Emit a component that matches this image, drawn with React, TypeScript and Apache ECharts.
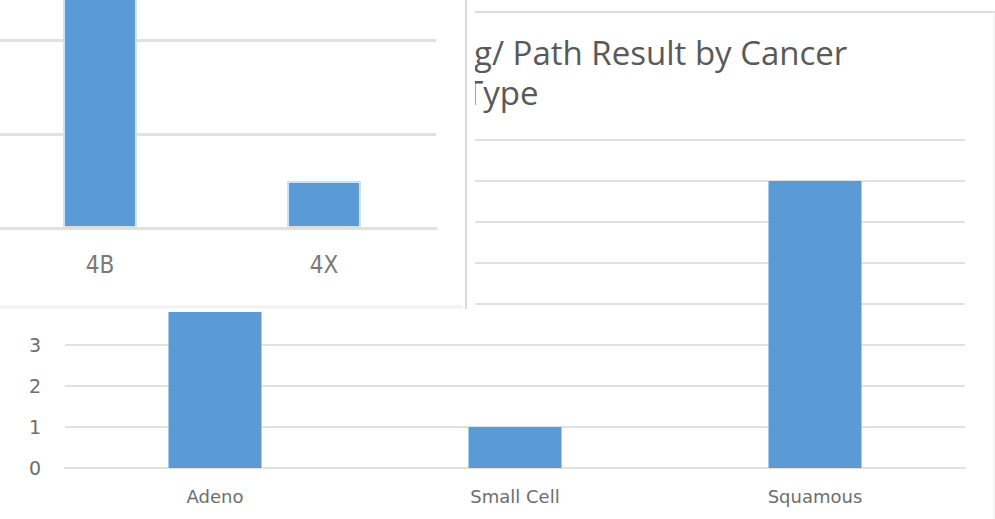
import React, { useEffect, useRef } from "react";
import * as echarts from "echarts";

// Counts by cancer type (main chart)
const cancerTypes = ["Adeno", "Small Cell", "Squamous"];
const cancerCounts = [6, 1, 7];
const countAxisMax = 8;
const countAxisStep = 1;

// Counts by stage (inset panel)
const stageLabels = ["4B", "4X"];
const stageCounts = [5, 1];
const stageAxisMax = 6;
const stageAxisStep = 2;

// Title lines as shown
const titleLine1 = "g/ Path Result by Cancer";
const titleLine2 = "Type";

const BAR_BLUE = "#5b9bd5";
const GRID_GRAY = "#e1e1e1";
const LABEL_GRAY = "#6e6e6e";

// The inset panel's div is shifted up/left so its plot runs past the visible edge
const PANEL_SHIFT_X = 12;
const PANEL_SHIFT_Y = 54;
const PANEL_W = 475;
const PANEL_H = 312;

function MainChart() {
  const ref = useRef<HTMLDivElement>(null);
  useEffect(() => {
    if (!ref.current) return;
    const chart = echarts.init(ref.current, undefined, { renderer: "svg" });
    const titleStyle = {
      fontFamily: "'Open Sans', sans-serif",
      fontSize: 33,
      fontWeight: "normal",
      color: "#595959",
    };
    chart.setOption({
      animation: false,
      backgroundColor: "#ffffff",
      title: [
        { text: titleLine1, left: 474, top: 36, padding: 0, textStyle: titleStyle },
        { text: titleLine2, left: 465, top: 76, padding: 0, textStyle: titleStyle },
      ],
      grid: { left: 65, right: 30, top: 140, bottom: 51, containLabel: false },
      xAxis: {
        type: "category",
        data: cancerTypes,
        axisTick: { show: false },
        axisLine: { lineStyle: { color: GRID_GRAY, width: 2 } },
        axisLabel: {
          margin: 19,
          color: LABEL_GRAY,
          fontFamily: "'DejaVu Sans', sans-serif",
          fontSize: 18,
        },
      },
      yAxis: {
        type: "value",
        min: 0,
        max: countAxisMax,
        interval: countAxisStep,
        axisLine: { show: false },
        axisTick: { show: false },
        splitLine: { lineStyle: { color: GRID_GRAY, width: 2 } },
        axisLabel: {
          margin: 24,
          color: LABEL_GRAY,
          fontFamily: "'DejaVu Sans', sans-serif",
          fontSize: 19,
        },
      },
      series: [
        {
          type: "bar",
          data: cancerCounts,
          barWidth: "31%",
          itemStyle: { color: BAR_BLUE },
        },
      ],
      graphic: [
        {
          type: "line",
          shape: { x1: 475, y1: 12, x2: 995, y2: 12 },
          style: { stroke: "#dcdcdc", lineWidth: 2 },
        },
        {
          type: "line",
          shape: { x1: 994, y1: 12, x2: 994, y2: 519 },
          style: { stroke: "#ececec", lineWidth: 1 },
        },
      ],
    });
    return () => chart.dispose();
  }, []);
  return (
    <div
      ref={ref}
      style={{ position: "absolute", left: 0, top: 0, width: 995, height: 519 }}
    />
  );
}

function StagePanel() {
  const ref = useRef<HTMLDivElement>(null);
  useEffect(() => {
    if (!ref.current) return;
    const chart = echarts.init(ref.current, undefined, { renderer: "svg" });
    chart.setOption({
      animation: false,
      backgroundColor: "#ffffff",
      grid: { left: 0, right: 39, top: 0, bottom: 84, containLabel: false },
      xAxis: {
        type: "category",
        data: stageLabels,
        axisTick: { show: false },
        axisLine: { lineStyle: { color: GRID_GRAY, width: 3 } },
        axisLabel: {
          margin: 25,
          color: "#7a7a7a",
          fontFamily:
            "'DejaVu Sans Condensed', 'Liberation Sans Narrow', 'DejaVu Sans', sans-serif",
          fontSize: 24,
        },
      },
      yAxis: {
        type: "value",
        min: 0,
        max: stageAxisMax,
        interval: stageAxisStep,
        axisLine: { show: false },
        axisTick: { show: false },
        axisLabel: { show: false },
        splitLine: { lineStyle: { color: GRID_GRAY, width: 3 } },
      },
      series: [
        {
          type: "bar",
          data: stageCounts,
          barWidth: "33%",
          itemStyle: { color: BAR_BLUE, borderColor: "#cfe0f1", borderWidth: 2 },
        },
      ],
      graphic: [
        {
          type: "line",
          shape: {
            x1: 466 + PANEL_SHIFT_X,
            y1: 0,
            x2: 466 + PANEL_SHIFT_X,
            y2: 309 + PANEL_SHIFT_Y,
          },
          style: { stroke: "#dadada", lineWidth: 2 },
        },
        {
          type: "line",
          shape: {
            x1: PANEL_SHIFT_X,
            y1: 307 + PANEL_SHIFT_Y,
            x2: 463 + PANEL_SHIFT_X,
            y2: 307 + PANEL_SHIFT_Y,
          },
          style: { stroke: "#f2f2f2", lineWidth: 3 },
        },
      ],
    });
    return () => chart.dispose();
  }, []);
  return (
    <div
      ref={ref}
      style={{
        position: "absolute",
        left: -PANEL_SHIFT_X,
        top: -PANEL_SHIFT_Y,
        width: PANEL_W + PANEL_SHIFT_X,
        height: PANEL_H + PANEL_SHIFT_Y,
        zIndex: 2,
        background: "#ffffff",
      }}
    />
  );
}

export default function App() {
  return (
    <div
      style={{
        position: "fixed",
        left: 0,
        top: 0,
        width: 995,
        height: 519,
        overflow: "hidden",
        background: "#ffffff",
      }}
    >
      <MainChart />
      <StagePanel />
    </div>
  );
}
